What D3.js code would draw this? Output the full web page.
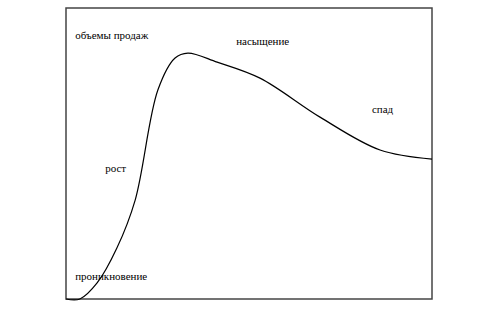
<!DOCTYPE html>
<html>
<head>
<meta charset="utf-8">
<script src="https://cdn.jsdelivr.net/npm/d3@7"></script>
<style>
	body { margin: 0; background: #fff; }
</style>
</head>
<body>
<div id="chart"></div>
<script>
// life cycle curve (x: time 0..100, y: sales 0..100)
var timeVals = [0, 3.8, 8.5, 13.9, 18.9, 25.1, 29.8, 33.3, 41.3, 53, 69.4, 85.8, 100];
var salesVals = [0, 0, 5.5, 17.5, 34, 71.8, 82.8, 84.5, 81.4, 75.9, 62.5, 51.2, 48.1];

var labelNames = ["объемы продаж", "насыщение", "спад", "рост", "проникновение"];
var labelTime = [2.5, 46.5, 83.6, 10.7, 2.5];
var labelSales = [89.3, 87.3, 64, 43.6, 6.5];

var conf = { width: 480, height: 312, left: 66, top: 8, right: 432, bottom: 299 };

var x = d3.scaleLinear().domain([0, 100]).range([conf.left, conf.right]);
var y = d3.scaleLinear().domain([0, 100]).range([conf.bottom, conf.top]);

var $svg = d3.select("#chart").append("svg")
	.attr("width", conf.width)
	.attr("height", conf.height);

$svg.append("rect")
	.attr("x", conf.left)
	.attr("y", conf.top)
	.attr("width", conf.right - conf.left)
	.attr("height", conf.bottom - conf.top)
	.attr("fill", "none")
	.attr("stroke", "#444")
	.attr("stroke-width", 1.5);

var points = timeVals.map(function(t, i) { return [t, salesVals[i]]; });

var line = d3.line()
	.x(function(d) { return x(d[0]); })
	.y(function(d) { return y(d[1]); })
	.curve(d3.curveCatmullRom.alpha(0.5));

$svg.append("path")
	.datum(points)
	.attr("d", line)
	.attr("fill", "none")
	.attr("stroke", "#000")
	.attr("stroke-width", 1.2);

$svg.selectAll("text.label")
	.data(labelNames)
	.enter()
	.append("text")
	.attr("class", "label")
	.attr("x", function(d, i) { return x(labelTime[i]); })
	.attr("y", function(d, i) { return y(labelSales[i]); })
	.attr("font-family", "'Liberation Serif', 'Times New Roman', serif")
	.attr("font-size", 11)
	.attr("fill", "#000")
	.text(function(d) { return d; });
</script>
</body>
</html>
